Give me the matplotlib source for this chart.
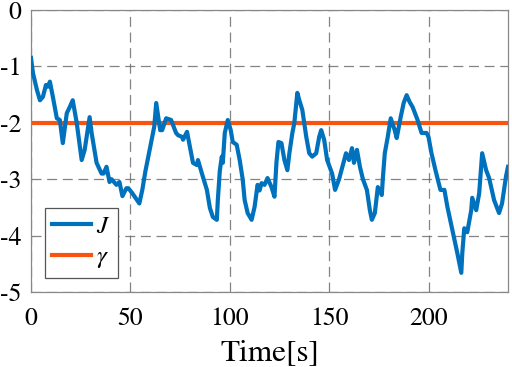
import matplotlib
matplotlib.use("Agg")
import matplotlib.pyplot as plt

time_s = [0, 1, 3, 4.5, 6, 7.5, 8.5, 9.5, 11, 13,
          14.5, 16, 18, 19.5, 21, 23, 25.5, 27, 29.5, 30.5,
          33, 35.5, 36.5, 38, 39.5, 40.5, 43, 44.5, 46, 48,
          49, 51, 54.5, 56, 57.5, 59, 61, 62, 63, 65,
          66, 68, 70.5, 73, 74, 76, 76.5, 78.5, 80, 81.5,
          83.5, 84, 86, 88.5, 90, 91.5, 93.5, 94, 95, 96,
          96.5, 97.5, 99, 100.5, 101.5, 103.5, 105, 106.5, 107.5, 109,
          111, 112.5, 114, 115, 116, 117.5, 119, 121, 122.5, 123.5,
          124.5, 126, 127.5, 129, 130, 131.5, 132.5, 134, 135, 136.5,
          138.5, 140, 141.5, 143.5, 145, 146, 147.5, 149, 151.5, 153,
          155, 156.5, 158.5, 160, 161.5, 162.5, 164, 165.5, 167, 169,
          170.5, 171.5, 173, 174.5, 176.5, 177, 178, 179.5, 181, 183,
          184, 186, 187.5, 189, 190.5, 192, 194.5, 196.5, 199, 200,
          201.5, 203.5, 206, 208, 209.5, 212, 214.5, 216.5, 217, 218,
          219.5, 221.5, 222, 224, 225.5, 227, 229, 230.5, 233, 235.5,
          237, 239, 240]
J_values = [-0.85, -1.12, -1.42, -1.6, -1.54, -1.33, -1.36, -1.27, -1.54, -1.92,
            -1.95, -2.36, -1.83, -1.72, -1.6, -2.0, -2.66, -2.48, -1.9, -2.18,
            -2.71, -2.9, -2.9, -2.78, -3.05, -3.0, -3.1, -3.05, -3.3, -3.16,
            -3.16, -3.25, -3.43, -3.19, -2.87, -2.6, -2.25, -2.07, -1.65, -2.13,
            -2.13, -1.92, -1.95, -2.18, -2.22, -2.25, -2.3, -2.16, -2.43, -2.71,
            -2.75, -2.66, -2.9, -3.19, -3.51, -3.67, -3.72, -3.37, -2.85, -2.6,
            -2.71, -2.18, -1.95, -2.13, -2.34, -2.39, -2.66, -3.0, -3.37, -3.6,
            -3.72, -3.49, -3.1, -3.2, -3.07, -3.1, -2.98, -3.14, -3.31, -2.7,
            -2.34, -2.36, -2.66, -2.84, -2.54, -2.18, -2.0, -1.47, -1.6, -1.77,
            -2.25, -2.54, -2.6, -2.54, -2.25, -2.13, -2.3, -2.66, -2.9, -3.19,
            -3.0, -2.8, -2.54, -2.66, -2.45, -2.71, -2.48, -2.78, -3.0, -3.19,
            -3.55, -3.72, -3.6, -3.14, -3.28, -3.0, -2.54, -2.25, -1.92, -2.13,
            -2.27, -1.9, -1.65, -1.51, -1.63, -1.72, -1.95, -2.18, -2.18, -2.25,
            -2.54, -2.84, -3.19, -3.19, -3.49, -3.9, -4.31, -4.66, -4.31, -3.87,
            -3.94, -3.55, -3.33, -3.55, -3.25, -2.54, -2.84, -2.98, -3.37, -3.6,
            -3.43, -2.95, -2.78]
gamma_value = -2.0
x_ticks = [0, 50, 100, 150, 200]
y_ticks = [0, -1, -2, -3, -4, -5]
y_tick_labels = ["0", "-1", "-2", "-3", "-4", "-5"]

serif = ['STIXGeneral', 'Liberation Serif', 'DejaVu Serif']
plt.rcParams['font.family'] = serif
plt.rcParams['mathtext.fontset'] = 'stix'

fig = plt.figure(figsize=(5.12, 3.67), dpi=100)
ax = fig.add_axes([31/512, 1 - 292/367, 477/512, 282/367])

ax.plot(time_s, J_values, color='#0072BD', lw=3.0, label=r'$J$', solid_joinstyle='round', zorder=3)
ax.axhline(gamma_value, color='#F9530F', lw=3.0, label=r'$\gamma$', zorder=2)

ax.set_xlim(0, 240)
ax.set_ylim(-5, 0)
ax.set_xticks(x_ticks)
ax.set_yticks(y_ticks)
ax.set_yticklabels(y_tick_labels)
ax.tick_params(labelsize=18.5, length=0, labelfontfamily=serif)
ax.tick_params(axis='x', pad=11)
ax.tick_params(axis='y', pad=7)
ax.grid(True, color='#666666', ls=(0, (8, 4.5)), lw=0.9, alpha=0.8)
for s in ax.spines.values():
    s.set_color('#888888')
    s.set_linewidth(0.9)
ax.set_xlabel('Time[s]', fontsize=22.5, labelpad=6, family=serif)

leg = ax.legend(loc='lower left', bbox_to_anchor=(0.029, 0.05), borderaxespad=0,
                fontsize=18, handlelength=1.55, handletextpad=0.2, borderpad=0.3,
                labelspacing=0.25, fancybox=False, framealpha=1, edgecolor='#555555')
leg.get_frame().set_linewidth(0.9)

fig.savefig('out.png', dpi=100)
